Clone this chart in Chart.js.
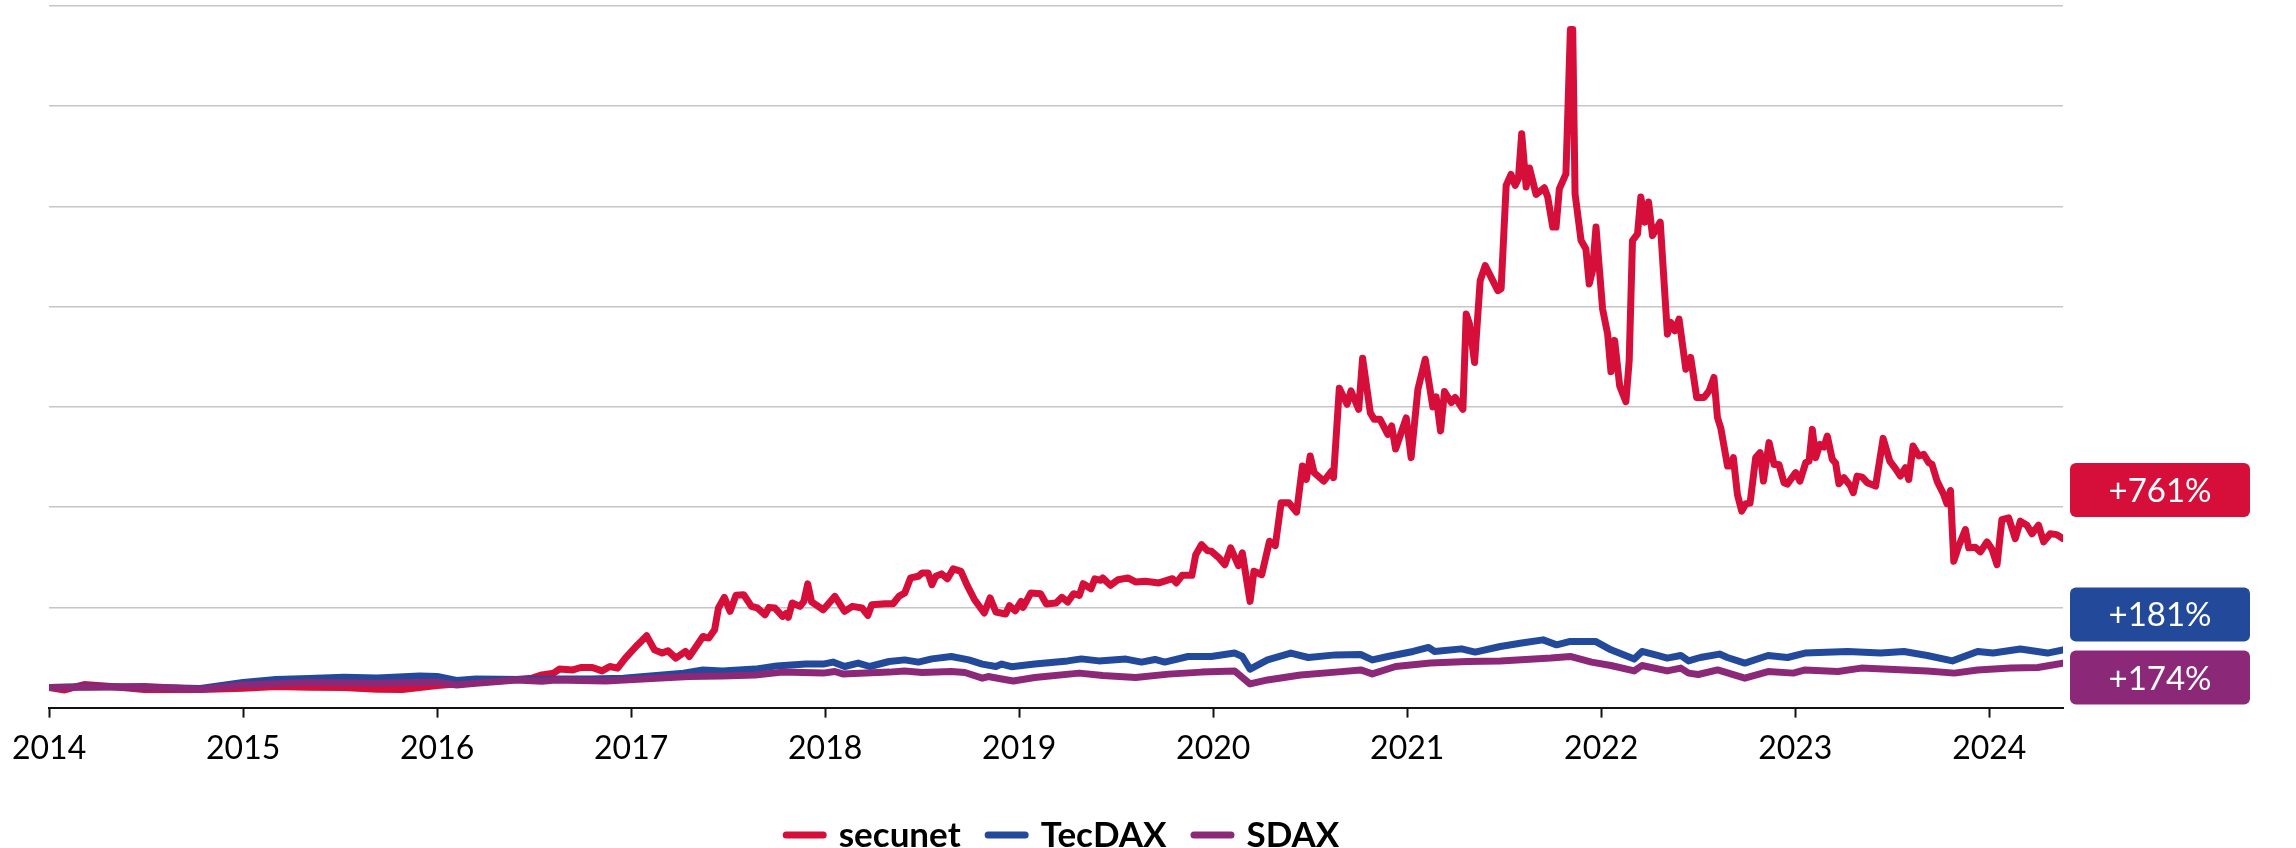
<!DOCTYPE html>
<html>
<head>
<meta charset="utf-8">
<title>secunet vs TecDAX vs SDAX</title>
<script src="https://cdn.jsdelivr.net/npm/chart.js@4.4.1/dist/chart.umd.min.js"></script>
<style>
  html, body { margin: 0; padding: 0; background: #fff; }
  canvas { display: block; }
</style>
</head>
<body>
<canvas id="chart" width="2296" height="848"></canvas>
<script>
// Performance indexed to 100 at start of 2014, [year, value]
const secunet = [
  [2014.00, 100], [2014.08, 88], [2014.18, 115], [2014.32, 105], [2014.49, 90], [2014.66, 92], [2014.78, 90],
  [2015.00, 97], [2015.17, 105], [2015.34, 102], [2015.52, 100], [2015.69, 92], [2015.82, 90],
  [2016.00, 110], [2016.20, 125], [2016.41, 140], [2016.49, 147], [2016.54, 163], [2016.60, 172], [2016.63, 192],
  [2016.70, 188], [2016.74, 200], [2016.80, 200], [2016.85, 183], [2016.89, 205], [2016.93, 197], [2016.97, 247],
  [2017.03, 310], [2017.08, 358], [2017.12, 288], [2017.16, 272], [2017.19, 283], [2017.23, 247], [2017.28, 280],
  [2017.30, 255], [2017.33, 297], [2017.37, 355], [2017.40, 347], [2017.43, 388], [2017.45, 497], [2017.48, 550],
  [2017.51, 480], [2017.54, 560], [2017.58, 563], [2017.62, 505], [2017.65, 497], [2017.69, 463], [2017.71, 500],
  [2017.74, 497], [2017.78, 455], [2017.80, 470], [2017.81, 450], [2017.83, 522], [2017.87, 505], [2017.89, 530],
  [2017.91, 617], [2017.93, 527], [2017.99, 488], [2018.05, 555], [2018.10, 480], [2018.14, 505], [2018.19, 497],
  [2018.22, 460], [2018.24, 513], [2018.31, 518], [2018.35, 518], [2018.38, 555], [2018.41, 572], [2018.44, 647],
  [2018.48, 655], [2018.50, 672], [2018.53, 672], [2018.55, 613], [2018.57, 655], [2018.60, 667], [2018.63, 643],
  [2018.66, 692], [2018.70, 680], [2018.73, 613], [2018.77, 538], [2018.82, 472], [2018.85, 547], [2018.88, 477],
  [2018.93, 467], [2018.95, 508], [2018.98, 483], [2019.01, 530], [2019.02, 500], [2019.06, 572], [2019.11, 568],
  [2019.14, 517], [2019.19, 522], [2019.22, 550], [2019.25, 527], [2019.28, 568], [2019.31, 560], [2019.33, 618],
  [2019.37, 593], [2019.39, 642], [2019.42, 635], [2019.43, 647], [2019.47, 610], [2019.51, 638], [2019.56, 647],
  [2019.60, 627], [2019.65, 630], [2019.72, 622], [2019.79, 643], [2019.81, 622], [2019.84, 660], [2019.89, 660],
  [2019.91, 763], [2019.94, 813], [2019.97, 783], [2019.99, 780], [2020.03, 747], [2020.06, 713], [2020.09, 797],
  [2020.13, 708], [2020.15, 772], [2020.19, 530], [2020.21, 680], [2020.25, 663], [2020.29, 830], [2020.32, 808],
  [2020.35, 1022], [2020.39, 1022], [2020.43, 975], [2020.46, 1205], [2020.48, 1138], [2020.50, 1255], [2020.52, 1172],
  [2020.57, 1130], [2020.61, 1180], [2020.62, 1147], [2020.65, 1593], [2020.69, 1513], [2020.71, 1580], [2020.75, 1488],
  [2020.77, 1743], [2020.81, 1470], [2020.83, 1438], [2020.86, 1438], [2020.90, 1363], [2020.92, 1405], [2020.94, 1290],
  [2020.995, 1445], [2021.02, 1247], [2021.055, 1588], [2021.093, 1738], [2021.132, 1500], [2021.149, 1550],
  [2021.172, 1380], [2021.192, 1577], [2021.227, 1522], [2021.247, 1547], [2021.287, 1488], [2021.304, 1963],
  [2021.321, 1913], [2021.347, 1722], [2021.376, 2130], [2021.402, 2205], [2021.467, 2080], [2021.484, 2090],
  [2021.510, 2605], [2021.535, 2660], [2021.556, 2605], [2021.573, 2638], [2021.590, 2863], [2021.613, 2597],
  [2021.630, 2692], [2021.664, 2560], [2021.707, 2593], [2021.724, 2547], [2021.750, 2397], [2021.767, 2397],
  [2021.784, 2588], [2021.818, 2663], [2021.841, 3383], [2021.853, 3383], [2021.865, 2563], [2021.896, 2330],
  [2021.921, 2288], [2021.938, 2113], [2021.955, 2180], [2021.973, 2397], [2022.007, 1988], [2022.033, 1863],
  [2022.050, 1676], [2022.069, 1832], [2022.095, 1605], [2022.127, 1526], [2022.144, 1730], [2022.161, 2330],
  [2022.187, 2363], [2022.204, 2547], [2022.225, 2422], [2022.244, 2522], [2022.264, 2355], [2022.304, 2422],
  [2022.341, 1863], [2022.358, 1922], [2022.379, 1880], [2022.401, 1938], [2022.436, 1688], [2022.461, 1747],
  [2022.492, 1547], [2022.530, 1547], [2022.556, 1580], [2022.581, 1647], [2022.599, 1447], [2022.616, 1395],
  [2022.651, 1205], [2022.668, 1205], [2022.681, 1247], [2022.702, 1063], [2022.724, 980], [2022.745, 1017],
  [2022.767, 1020], [2022.796, 1247], [2022.819, 1272], [2022.836, 1130], [2022.865, 1322], [2022.891, 1213],
  [2022.916, 1213], [2022.942, 1122], [2022.959, 1115], [2023.002, 1172], [2023.024, 1130], [2023.054, 1222],
  [2023.071, 1230], [2023.088, 1388], [2023.105, 1247], [2023.127, 1313], [2023.148, 1300], [2023.165, 1355],
  [2023.191, 1238], [2023.208, 1220], [2023.225, 1117], [2023.251, 1147], [2023.285, 1105], [2023.299, 1072],
  [2023.319, 1155], [2023.345, 1150], [2023.371, 1122], [2023.414, 1105], [2023.453, 1343], [2023.487, 1230],
  [2023.513, 1197], [2023.542, 1155], [2023.568, 1197], [2023.585, 1138], [2023.607, 1305], [2023.637, 1255],
  [2023.662, 1263], [2023.688, 1222], [2023.705, 1213], [2023.731, 1130], [2023.765, 1063], [2023.782, 1017],
  [2023.800, 1083], [2023.817, 730], [2023.842, 805], [2023.877, 888], [2023.894, 797], [2023.928, 800],
  [2023.954, 777], [2023.988, 827], [2024.014, 790], [2024.040, 713], [2024.065, 938], [2024.100, 947],
  [2024.134, 843], [2024.160, 930], [2024.194, 910], [2024.220, 867], [2024.254, 910], [2024.280, 827],
  [2024.314, 867], [2024.348, 863], [2024.379, 843]
];

const tecdax = [
  [2014.00, 100], [2014.20, 105], [2014.49, 102], [2014.78, 95], [2015.00, 125], [2015.17, 140], [2015.34, 145],
  [2015.52, 152], [2015.69, 148], [2015.91, 158], [2016.00, 155], [2016.10, 135], [2016.20, 143], [2016.44, 140],
  [2016.61, 143], [2016.79, 143], [2016.96, 147], [2017.13, 160], [2017.27, 172], [2017.37, 188], [2017.47, 183],
  [2017.64, 192], [2017.75, 208], [2017.90, 217], [2017.99, 217], [2018.04, 227], [2018.10, 205], [2018.17, 222],
  [2018.23, 205], [2018.33, 230], [2018.41, 238], [2018.48, 227], [2018.55, 243], [2018.65, 255], [2018.74, 238],
  [2018.81, 217], [2018.88, 205], [2018.91, 217], [2018.96, 204], [2019.08, 217], [2019.25, 233], [2019.32, 243],
  [2019.41, 233], [2019.55, 242], [2019.63, 227], [2019.70, 240], [2019.75, 227], [2019.87, 255], [2019.99, 255],
  [2020.11, 272], [2020.15, 255], [2020.19, 192], [2020.28, 238], [2020.40, 272], [2020.49, 250], [2020.63, 263],
  [2020.76, 265], [2020.82, 238], [2020.90, 255], [2021.03, 280], [2021.11, 300], [2021.14, 280], [2021.28, 293],
  [2021.35, 277], [2021.48, 305], [2021.59, 322], [2021.70, 338], [2021.77, 313], [2021.84, 330], [2021.97, 330],
  [2022.05, 288], [2022.17, 242], [2022.21, 280], [2022.29, 260], [2022.34, 247], [2022.41, 260], [2022.45, 233],
  [2022.51, 250], [2022.61, 267], [2022.65, 250], [2022.74, 222], [2022.86, 260], [2022.96, 250], [2023.05, 272],
  [2023.27, 280], [2023.44, 272], [2023.56, 280], [2023.68, 260], [2023.81, 233], [2023.94, 280], [2024.02, 272],
  [2024.16, 292], [2024.30, 272], [2024.38, 288]
];

const sdax = [
  [2014.00, 100], [2014.20, 102], [2014.49, 105], [2014.78, 92], [2015.00, 113], [2015.34, 125], [2015.69, 122],
  [2016.00, 127], [2016.10, 113], [2016.20, 122], [2016.41, 138], [2016.54, 132], [2016.61, 138], [2016.87, 133],
  [2017.13, 147], [2017.30, 155], [2017.47, 158], [2017.64, 163], [2017.78, 177], [2017.99, 172], [2018.05, 180],
  [2018.09, 168], [2018.33, 177], [2018.41, 183], [2018.50, 175], [2018.65, 180], [2018.72, 175], [2018.81, 147],
  [2018.84, 155], [2018.91, 143], [2018.97, 133], [2019.08, 150], [2019.31, 172], [2019.43, 160], [2019.60, 150],
  [2019.77, 167], [2019.94, 177], [2020.11, 183], [2020.19, 118], [2020.28, 138], [2020.45, 163], [2020.63, 177],
  [2020.76, 188], [2020.82, 168], [2020.94, 205], [2021.12, 222], [2021.31, 230], [2021.48, 233], [2021.74, 247],
  [2021.84, 255], [2021.95, 227], [2022.05, 210], [2022.17, 183], [2022.21, 210], [2022.34, 183], [2022.41, 197],
  [2022.45, 172], [2022.50, 165], [2022.60, 188], [2022.74, 147], [2022.86, 180], [2022.99, 172], [2023.05, 188],
  [2023.22, 180], [2023.34, 197], [2023.51, 190], [2023.68, 183], [2023.82, 172], [2023.94, 188], [2024.11, 197],
  [2024.25, 200], [2024.38, 222]
];

const seriesNames = ['secunet', 'TecDAX', 'SDAX'];
const changeLabels = ['+761%', '+181%', '+174%'];
const yearTicks = [2014, 2015, 2016, 2017, 2018, 2019, 2020, 2021, 2022, 2023, 2024];
const gridValues = [0, 500, 1000, 1500, 2000, 2500, 3000, 3500];

const seriesColors = ['#d60f3a', '#23499a', '#8b2978'];
const FONT = 'Lato, "Open Sans", sans-serif';

// legend under the chart + the coloured change boxes on the right
const legendAndBadges = {
    id: 'legendAndBadges',
    afterDraw(chart, args, opts) {
        const { ctx, chartArea, scales } = chart;
        ctx.save();

        ctx.font = 'bold 35px ' + FONT;
        ctx.textAlign = 'left';
        ctx.textBaseline = 'alphabetic';
        const widths = seriesNames.map(n => ctx.measureText(n).width);
        const total = widths.reduce((s, w) => s + opts.swatch + opts.swatchGap + w, 0) + opts.itemGap * (seriesNames.length - 1);
        let x = opts.legendCenter - total / 2;
        seriesNames.forEach((name, i) => {
            ctx.strokeStyle = seriesColors[i];
            ctx.lineWidth = 7;
            ctx.lineCap = 'round';
            ctx.beginPath();
            ctx.moveTo(x + 3.5, opts.legendLineY);
            ctx.lineTo(x + opts.swatch - 3.5, opts.legendLineY);
            ctx.stroke();
            x += opts.swatch + opts.swatchGap;
            ctx.fillStyle = '#000';
            ctx.fillText(name, x, opts.legendBaseline);
            x += widths[i] + opts.itemGap;
        });

        ctx.font = '33px ' + FONT;
        ctx.textAlign = 'center';
        changeLabels.forEach((label, i) => {
            const cy = scales.y.getPixelForValue(opts.badgeAt[i]);
            const bx = chartArea.right + opts.badgeOffset;
            ctx.fillStyle = seriesColors[i];
            ctx.beginPath();
            ctx.roundRect(bx, cy - opts.badgeHeight / 2, opts.badgeWidth, opts.badgeHeight, 6);
            ctx.fill();
            ctx.fillStyle = '#fff';
            ctx.fillText(label, bx + opts.badgeWidth / 2, cy + 12);
        });

        ctx.restore();
    }
};

new Chart(document.getElementById('chart'), {
    type: 'line',
    data: {
        datasets: [secunet, tecdax, sdax].map((pts, i) => ({
            label: seriesNames[i],
            data: pts.map(([x, y]) => ({ x, y })),
            borderColor: seriesColors[i],
            backgroundColor: seriesColors[i],
            borderWidth: 7,
            pointRadius: 0,
            borderJoinStyle: 'round',
            borderCapStyle: 'round',
            tension: 0,
            order: 2 - i
        }))
    },
    options: {
        responsive: false,
        animation: false,
        layout: { padding: { left: 45, right: 233, top: 6, bottom: 68 } },
        plugins: {
            legend: { display: false },
            tooltip: { enabled: false },
            legendAndBadges: {
                legendCenter: 1061, legendLineY: 835, legendBaseline: 847,
                swatch: 44, swatchGap: 12, itemGap: 24,
                badgeAt: [1085, 465, 150],
                badgeOffset: 7, badgeWidth: 180, badgeHeight: 54
            }
        },
        scales: {
            x: {
                type: 'linear',
                min: 2014,
                max: 2024.38,
                afterBuildTicks: s => { s.ticks = yearTicks.map(v => ({ value: v })); },
                grid: { drawOnChartArea: false, drawTicks: true, tickLength: 10, tickWidth: 2, tickColor: '#111' },
                border: { display: true, color: '#111', width: 2 },
                ticks: {
                    padding: 12, color: '#000', maxRotation: 0, autoSkip: false,
                    font: { family: FONT, size: 32 },
                    callback: v => String(v)
                }
            },
            y: {
                min: 0,
                max: 3500,
                afterBuildTicks: s => { s.ticks = gridValues.map(v => ({ value: v })); },
                grid: {
                    color: c => c.tick.value === 0 ? 'rgba(0,0,0,0)' : '#c6c6c6',
                    lineWidth: 1.5,
                    drawTicks: false
                },
                border: { display: false },
                ticks: { display: false }
            }
        }
    },
    plugins: [legendAndBadges]
});
</script>
</body>
</html>
